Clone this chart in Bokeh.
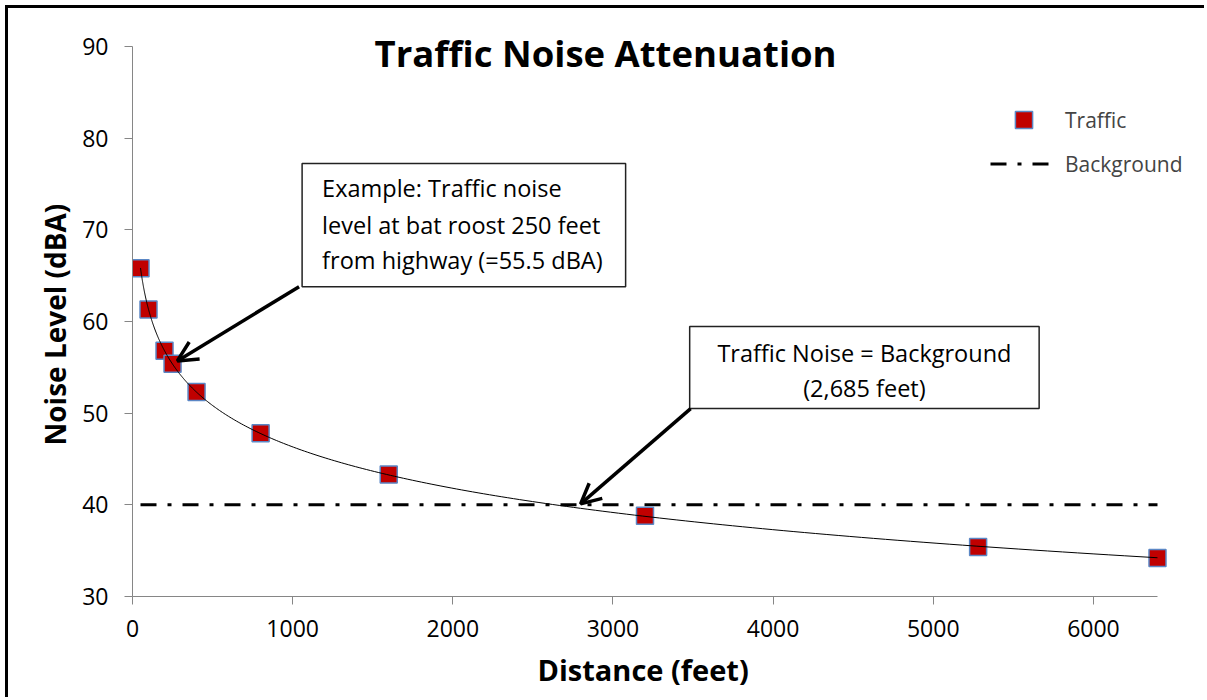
import numpy as np
from bokeh.plotting import figure
from bokeh.models import (Range1d, FixedTicker, Arrow, OpenHead, Legend, LegendItem,
                          Label, BoxAnnotation, Title)
from bokeh.embed import file_html
from bokeh.resources import INLINE

# ---- data ----
distance_ft = [50, 100, 200, 250, 400, 800, 1600, 3200, 5280, 6400]
traffic_dba = [65.8, 61.3, 56.8, 55.4, 52.3, 47.8, 43.3, 38.8, 35.4, 34.2]
background_x = [50, 6400]
background_dba = [40, 40]
x_ticks = [0, 1000, 2000, 3000, 4000, 5000, 6000]
y_ticks = [30, 40, 50, 60, 70, 80, 90]

title_text = "Traffic Noise Attenuation"
x_label = "Distance (feet)"
y_label = "Noise Level (dBA)"
note1_lines = ["Example: Traffic noise", "level at bat roost 250 feet", "from highway (=55.5 dBA)"]
note2_lines = ["Traffic Noise = Background", "(2,685 feet)"]

# logarithmic trend line fitted to the traffic points
coef = np.polyfit(np.log(distance_ft), traffic_dba, 1)
trend_x = np.geomspace(min(distance_ft), max(distance_ft), 300)
trend_y = np.polyval(coef, np.log(trend_x))

FONT = "Open Sans"

# axes end at 6400 / 90; the frame extends a little further so that the
# legend and the title are not clipped
p = figure(width=1199, height=692, output_backend="svg", toolbar_location=None,
           x_range=Range1d(0, 6668.5), y_range=Range1d(30, 94.145),
           min_border_left=124, min_border_right=7, min_border_top=0, min_border_bottom=104)
p.outline_line_color = None
p.grid.visible = False
p.background_fill_color = "white"
p.border_fill_color = "white"
p.styles = {"margin-left": "5px", "margin-top": "5px",
            "border-left": "3px solid black", "border-top": "3px solid black"}

for ax in (p.xaxis[0], p.yaxis[0]):
    ax.axis_line_color = "#868686"
    ax.major_tick_line_color = "#868686"
    ax.major_tick_out = 8
    ax.major_tick_in = 0
    ax.minor_tick_line_color = None
    ax.major_label_text_font = FONT
    ax.major_label_text_font_size = "23px"
    ax.major_label_text_color = "#000000"

p.xaxis.ticker = FixedTicker(ticks=x_ticks)
p.yaxis.ticker = FixedTicker(ticks=y_ticks)
p.xaxis.bounds = (0, 6400)
p.yaxis.bounds = (30, 90)
p.xaxis.major_label_standoff = 15
p.yaxis.major_label_standoff = 16

# axis titles, aligned to the axis span (0..6400 / 30..90)
p.add_layout(Title(text=x_label, align="left", offset=405, standoff=16,
                   text_font=FONT, text_font_style="bold", text_font_size="29px",
                   text_color="black"), "below")
p.add_layout(Title(text=y_label, align="left", offset=151, standoff=12,
                   text_font=FONT, text_font_style="bold", text_font_size="28px",
                   text_color="black"), "left")

bg = p.line(background_x, background_dba, line_color="black", line_width=3,
            line_dash="16 11 4 11")
sc = p.scatter(distance_ft, traffic_dba, marker="square", size=17,
               fill_color="#c00000", line_color="#5b87c5", line_width=1.5)
p.line(trend_x, trend_y, line_color="black", line_width=1)

legend = Legend(items=[LegendItem(label="Traffic", renderers=[sc]),
                       LegendItem(label="Background", renderers=[bg])],
                location=(858, 411), padding=0, margin=0, border_line_color=None,
                background_fill_alpha=0, glyph_width=67, glyph_height=43, spacing=1,
                label_standoff=8, label_text_font=FONT, label_text_font_size="21px",
                label_height=20)
p.add_layout(legend)

# chart title
p.add_layout(Label(x=2954, y=89.29, text=title_text, text_align="center",
                   text_baseline="alphabetic", text_font=FONT, text_font_style="bold",
                   text_font_size="36.5px", text_color="black"))

# note 1
p.add_layout(BoxAnnotation(left=1059, right=3079, top=77.24, bottom=63.79,
                           fill_color="white", fill_alpha=1, line_color="#222222",
                           line_width=1.5, line_alpha=1))
for txt, yy in zip(note1_lines, [74.54, 70.55, 66.70]):
    p.add_layout(Label(x=1184, y=yy, text=txt, text_align="left", text_baseline="alphabetic",
                       text_font=FONT, text_font_size="23.5px", text_color="black"))

# note 2
p.add_layout(BoxAnnotation(left=3479, right=5661, top=59.45, bottom=50.51,
                           fill_color="white", fill_alpha=1, line_color="#222222",
                           line_width=1.5, line_alpha=1))
for txt, yy in zip(note2_lines, [56.54, 52.74]):
    p.add_layout(Label(x=4570, y=yy, text=txt, text_align="center", text_baseline="alphabetic",
                       text_font=FONT, text_font_size="23.5px", text_color="black"))

# arrows
p.add_layout(Arrow(end=OpenHead(size=20, line_width=3.5, line_color="black"),
                   x_start=1040, y_start=63.8, x_end=280, y_end=55.7,
                   line_width=3.5, line_color="black"))
p.add_layout(Arrow(end=OpenHead(size=20, line_width=3.5, line_color="black"),
                   x_start=3485, y_start=50.5, x_end=2798, y_end=40.1,
                   line_width=3.5, line_color="black"))

open("out.html", "w").write(file_html(p, INLINE))
